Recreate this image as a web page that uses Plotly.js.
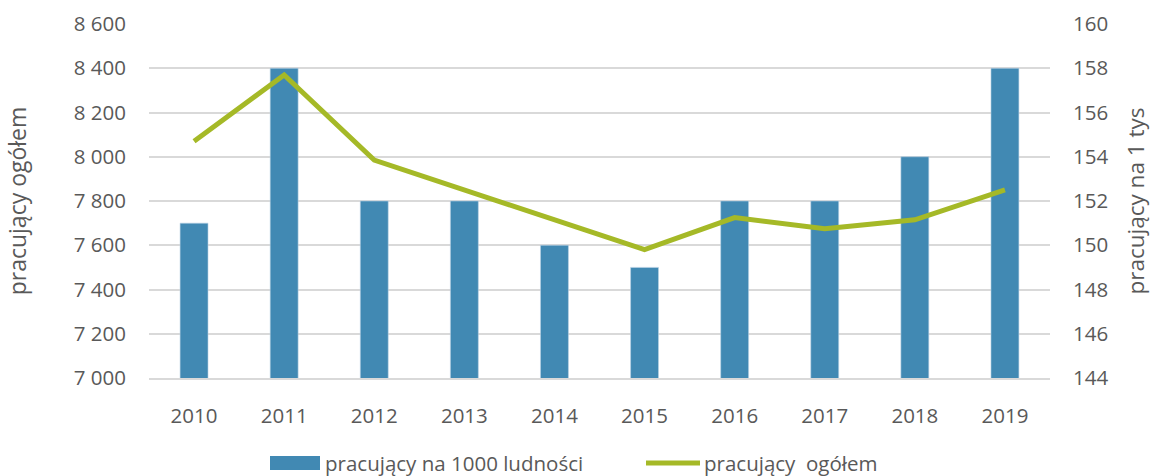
<!DOCTYPE html>
<html>
<head>
<meta charset="utf-8">
<script src="https://cdn.plot.ly/plotly-3.0.1.min.js"></script>
<style>html,body{margin:0;padding:0;background:#fff;}#chart{width:1154px;height:476px;}</style>
</head>
<body>
<div id="chart"></div>
<script>
const years = ['2010','2011','2012','2013','2014','2015','2016','2017','2018','2019'];
const barValues = [7700, 8400, 7800, 7800, 7600, 7500, 7800, 7800, 8000, 8400];
const lineValues = [154.7, 157.7, 153.85, 152.5, 151.1, 149.8, 151.25, 150.75, 151.15, 152.5];
const barName = 'pracujący na 1000 ludności';
const lineName = 'pracujący  ogółem';
const leftTitle = 'pracujący ogółem';
const rightTitle = 'pracujący na 1 tys';

const fontFam = 'Open Sans, Noto Sans, sans-serif';
const txt = '#595959';
const barColor = '#4189b3';
const lineColor = '#a5b927';

const data = [
  {type:'bar', x:years, y:barValues, name:barName, yaxis:'y', showlegend:false,
   marker:{color:barColor, line:{color:'#bcd4e6', width:0.6}}},
  {type:'scatter', mode:'lines', x:years, y:lineValues, name:lineName, yaxis:'y2', showlegend:false,
   line:{color:lineColor, width:5}}
];

// custom legend (container pixel positions converted to paper fractions)
const W = 1154, H = 476, mL = 149, mR = 104, mT = 24, mB = 98;
const pw = W - mL - mR, ph = H - mT - mB;
const px = v => (v - mL) / pw;
const py = v => (H - mB - v) / ph;
const legY = 463;

const layout = {
  width:W, height:H,
  margin:{l:mL, r:mR, t:mT, b:mB},
  paper_bgcolor:'#fff', plot_bgcolor:'#fff',
  separators:', ',
  font:{family:fontFam, color:txt, size:20},
  bargap:0.69,
  showlegend:false,
  xaxis:{type:'category', showgrid:false, zeroline:false, showline:true, linecolor:'#d9d9d9', linewidth:2,
         ticks:'', ticklabelstandoff:18, tickfont:{size:20.5, color:txt}},
  yaxis:{range:[7000,8600], dtick:200, tick0:7000, tickformat:',d', showgrid:true, gridcolor:'#d9d9d9', gridwidth:2,
         zeroline:false, showline:false, ticks:'', ticklabelstandoff:22, tickfont:{size:20.5, color:txt},
         title:{text:leftTitle, font:{size:23, color:txt}, standoff:40}},
  yaxis2:{range:[144,160], dtick:2, tick0:144, overlaying:'y', side:'right', showgrid:false, zeroline:false,
          showline:false, ticks:'', ticklabelstandoff:22, tickfont:{size:20.5, color:txt},
          title:{text:rightTitle, font:{size:22.5, color:txt}, standoff:20}},
  shapes:[
    {type:'rect', xref:'paper', yref:'paper', x0:px(270), x1:px(320), y0:py(legY+7), y1:py(legY-7),
     fillcolor:barColor, line:{width:0}},
    {type:'line', xref:'paper', yref:'paper', x0:px(646), x1:px(700), y0:py(legY), y1:py(legY),
     line:{color:lineColor, width:5}}
  ],
  annotations:[
    {xref:'paper', yref:'paper', x:px(323), y:py(legY), xanchor:'left', yanchor:'middle', showarrow:false,
     text:barName, font:{size:20.5, color:txt}},
    {xref:'paper', yref:'paper', x:px(702), y:py(legY), xanchor:'left', yanchor:'middle', showarrow:false,
     text:lineName, font:{size:20.5, color:txt}}
  ]
};
Plotly.newPlot('chart', data, layout, {displayModeBar:false, staticPlot:true});
</script>
</body>
</html>
